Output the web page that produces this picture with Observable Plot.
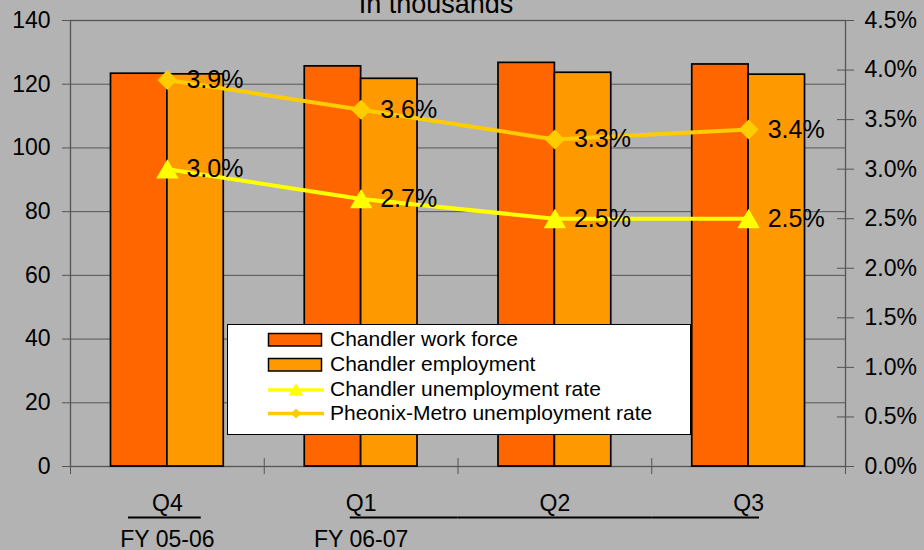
<!DOCTYPE html>
<html><head><meta charset="utf-8">
<script src="https://cdn.jsdelivr.net/npm/d3@7"></script>
<script src="https://cdn.jsdelivr.net/npm/@observablehq/plot@0.6"></script>
<style>
html,body{margin:0;padding:0;background:#b3b3b3;}
#chart{position:relative;width:924px;height:550px;overflow:hidden;font-family:"Liberation Sans",Arial,sans-serif;}
#legend{position:absolute;left:227px;top:324px;}
</style></head><body><div id="chart"></div>
<script>
const title = "In thousands";
const quarters = ["Q4", "Q1", "Q2", "Q3"];
const fiscalYears = ["FY 05-06", "FY 06-07"];
const fiscalYearAt = ["Q4", "Q1"];
const workForce = [123.3, 125.6, 126.7, 126.2];
const employment = [123.1, 121.7, 123.6, 123.0];
const chandlerRate = [3.0, 2.7, 2.5, 2.5];
const phoenixRate = [3.9, 3.6, 3.3, 3.4];
const leftTicks = [0, 20, 40, 60, 80, 100, 120, 140];
const rightTicks = [0, 0.5, 1, 1.5, 2, 2.5, 3, 3.5, 4, 4.5];
const seriesNames = ["Chandler work force", "Chandler employment", "Chandler unemployment rate", "Pheonix-Metro unemployment rate"];
const colors = ["#ff6600", "#ff9900", "#ffff00", "#ffcc00"];

const leftMax = leftTicks[leftTicks.length - 1];
const rightMax = rightTicks[rightTicks.length - 1];
const toLeft = r => r * leftMax / rightMax;

const W = 924, H = 550, mL = 70, mR = 79, mT = 20, mB = 84;
const plotW = W - mL - mR, plotH = H - mT - mB;
const bw = plotW / quarters.length;

const wf = quarters.map((q, i) => ({q, v: workForce[i]}));
const emp = quarters.map((q, i) => ({q, v: employment[i]}));
const chand = quarters.map((q, i) => ({q, rate: chandlerRate[i], y: toLeft(chandlerRate[i])}));
const phx = quarters.map((q, i) => ({q, rate: phoenixRate[i], y: toLeft(phoenixRate[i])}));
const qLabels = quarters.map(q => ({q, y: 0}));
const fyLabels = fiscalYears.map((f, i) => ({q: fiscalYearAt[i], f, y: 0}));
const rightScaled = rightTicks.map(toLeft);
const fmtPct = r => r.toFixed(1) + "%";

const chart = Plot.plot({
  width: W, height: H,
  marginLeft: mL, marginRight: mR, marginTop: mT, marginBottom: mB,
  style: {background: "#b3b3b3", fontFamily: "'Liberation Sans', Arial, sans-serif", fontSize: "23px", color: "#000"},
  x: {domain: quarters, padding: 0, round: false, axis: null},
  y: {domain: [0, leftMax], axis: null, label: null},
  marks: [
    Plot.gridY(leftTicks, {stroke: "#555", strokeOpacity: 1, strokeWidth: 1}),
    Plot.frame({stroke: "#555", strokeWidth: 1.3}),
    Plot.axisY(leftTicks, {anchor: "left", tickSize: 8, tickPadding: 12, stroke: "#555", fill: "#000", fontSize: 23, label: null}),
    Plot.axisY(rightScaled, {anchor: "right", tickSize: 8, tickPadding: 11, stroke: "#555", fill: "#000", fontSize: 23, label: null,
      tickFormat: d => fmtPct(d * rightMax / leftMax)}),
    Plot.tickY(rightScaled, {y: d => d, insetLeft: plotW - 8, stroke: "#555"}),
    Plot.tickX(quarters, {x: d => d, dx: -bw / 2, insetTop: plotH - 8, insetBottom: -8, stroke: "#555"}),
    Plot.tickX(quarters.slice(-1), {x: d => d, dx: bw / 2, insetTop: plotH - 8, insetBottom: -8, stroke: "#555"}),
    Plot.barY(wf, {x: "q", y: "v", fill: colors[0], stroke: "#000", strokeWidth: 1.7, insetLeft: 40.5, insetRight: bw / 2}),
    Plot.barY(emp, {x: "q", y: "v", fill: colors[1], stroke: "#000", strokeWidth: 1.7, insetLeft: bw / 2, insetRight: 40.5}),
    Plot.line(phx, {x: "q", y: "y", stroke: colors[3], strokeWidth: 4}),
    Plot.line(chand, {x: "q", y: "y", stroke: colors[2], strokeWidth: 4}),
    Plot.dot(phx, {x: "q", y: "y", symbol: "diamond2", r: 9, fill: colors[3], stroke: "none"}),
    Plot.dot(chand, {x: "q", y: "y", symbol: "triangle", r: 8.3, dy: 3, fill: colors[2], stroke: "none"}),
    Plot.text(phx, {x: "q", y: "y", text: d => fmtPct(d.rate), dx: 19, textAnchor: "start", fontSize: 25, fill: "#000"}),
    Plot.text(chand, {x: "q", y: "y", text: d => fmtPct(d.rate), dx: 19, textAnchor: "start", fontSize: 25, fill: "#000"}),
    Plot.text(qLabels, {x: "q", y: "y", text: "q", dy: 44, lineAnchor: "bottom", fontSize: 23, fill: "#000"}),
    Plot.text(fyLabels, {x: "q", y: "y", text: "f", dy: 80, lineAnchor: "bottom", fontSize: 23, fill: "#000"}),
    Plot.tickY(qLabels.filter(d => d.q === "Q4"), {x: "q", y: "y", dy: 51, insetLeft: 58, insetRight: 63, stroke: "#000", strokeWidth: 2}),
    Plot.tickY(qLabels.filter(d => d.q === "Q1"), {x: "q", y: "y", dy: 51, insetLeft: 86, stroke: "#000", strokeWidth: 2}),
    Plot.tickY(qLabels.filter(d => d.q === "Q2"), {x: "q", y: "y", dy: 51, stroke: "#000", strokeWidth: 2}),
    Plot.tickY(qLabels.filter(d => d.q === "Q3"), {x: "q", y: "y", dy: 51, insetRight: 86, stroke: "#000", strokeWidth: 2}),
    Plot.text([title], {frameAnchor: "top", dx: -22, dy: -8, lineAnchor: "bottom", fontSize: 27, fill: "#000"})
  ]
});
document.getElementById("chart").appendChild(chart);

// Legend
const lg = d3.select("#chart").append("svg").attr("id", "legend")
  .attr("width", 464).attr("height", 111)
  .style("font-family", "'Liberation Sans', Arial, sans-serif");
lg.append("rect").attr("x", 0.5).attr("y", 0.5).attr("width", 463).attr("height", 110)
  .attr("fill", "#fff").attr("stroke", "#000").attr("stroke-width", 1);
const rowY = [15.5, 40.5, 66, 89.5];
seriesNames.forEach((name, i) => {
  const g = lg.append("g");
  if (i < 2) {
    g.append("rect").attr("x", 41.5).attr("y", rowY[i] - 6).attr("width", 53).attr("height", 12.5)
      .attr("fill", colors[i]).attr("stroke", "#000").attr("stroke-width", 1.5);
  } else {
    g.append("line").attr("x1", 41).attr("x2", 97).attr("y1", rowY[i]).attr("y2", rowY[i])
      .attr("stroke", colors[i]).attr("stroke-width", 3.5);
    const sym = i === 2 ? d3.symbolTriangle : d3.symbolDiamond2;
    const size = i === 2 ? 95 : 65;
    g.append("path").attr("d", d3.symbol(sym, size)())
      .attr("transform", `translate(69,${rowY[i] + (i === 2 ? 1.5 : 0)})`).attr("fill", colors[i]);
  }
  g.append("text").attr("x", 103).attr("y", rowY[i] + 6).attr("font-size", 21).attr("fill", "#000").text(name);
});
</script></body></html>
